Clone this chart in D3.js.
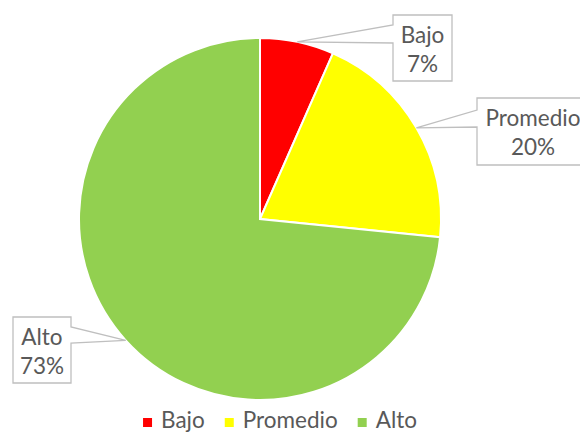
<!DOCTYPE html>
<html>
<head>
<meta charset="utf-8">
<script src="https://cdn.jsdelivr.net/npm/d3@7"></script>
<style>
  body { margin: 0; background: #fff; }
  #chart { width: 580px; height: 432px; }
  text { font-family: Lato, "Open Sans", sans-serif; fill: #595959; }
</style>
</head>
<body>
<div id="chart"></div>
<script>
// Dati
const categories = ['Bajo', 'Promedio', 'Alto'];
const values = [6.6, 20.0, 73.4];
const percentLabels = ['7%', '20%', '73%'];
const colors = ['#FF0000', '#FFFF00', '#92D050'];

const width = 580, height = 432;
const cx = 260, cy = 219, radius = 181;
const fontSize = 22.5;

// Posizione delle etichette (box) e lato di aggancio del richiamo
const labelBoxes = [
    { x: 393, y: 15, w: 59, h: 66, side: 'left', g0: 10, g1: 28 },
    { x: 477, y: 98, w: 115, h: 67, side: 'left', g0: 12, g1: 29, tx: 533 },
    { x: 13, y: 317, w: 58, h: 66, side: 'right', g0: 10, g1: 26 }
];

const svg = d3.select('#chart').append('svg')
    .attr('width', width)
    .attr('height', height);

const g = svg.append('g')
    .attr('transform', `translate(${cx},${cy})`);

const pie = d3.pie().sort(null).value(d => d);
const arcs = pie(values);

const arc = d3.arc().innerRadius(0).outerRadius(radius);

g.selectAll('path.slice')
    .data(arcs)
    .enter().append('path')
    .attr('class', 'slice')
    .attr('d', arc)
    .attr('fill', (d, i) => colors[i])
    .attr('stroke', '#fff')
    .attr('stroke-width', 2);

// Etichette con richiamo
const labelLayer = svg.append('g');
arcs.forEach((d, i) => {
    const mid = (d.startAngle + d.endAngle) / 2;
    const tip = [cx + radius * Math.sin(mid), cy - radius * Math.cos(mid)];
    const b = labelBoxes[i];
    let pts;
    if (b.side === 'left') {
        pts = [[b.x, b.y], [b.x + b.w, b.y], [b.x + b.w, b.y + b.h], [b.x, b.y + b.h],
               [b.x, b.y + b.g1], tip, [b.x, b.y + b.g0]];
    } else {
        pts = [[b.x, b.y], [b.x + b.w, b.y], [b.x + b.w, b.y + b.g0], tip,
               [b.x + b.w, b.y + b.g1], [b.x + b.w, b.y + b.h], [b.x, b.y + b.h]];
    }
    labelLayer.append('path')
        .attr('d', 'M' + pts.map(p => p.join(',')).join('L') + 'Z')
        .attr('fill', '#fff')
        .attr('stroke', '#BFBFBF')
        .attr('stroke-width', 1.3);

    const tx = b.tx || (b.x + b.w / 2);
    labelLayer.append('text')
        .attr('x', tx)
        .attr('y', b.y + 28)
        .attr('text-anchor', 'middle')
        .style('font-size', fontSize + 'px')
        .text(categories[i]);
    labelLayer.append('text')
        .attr('x', tx)
        .attr('y', b.y + 57)
        .attr('text-anchor', 'middle')
        .style('font-size', fontSize + 'px')
        .text(percentLabels[i]);
});

// Legenda
const legend = svg.append('g');
const items = categories.map((c, i) => {
    const row = legend.append('g');
    row.append('rect')
        .attr('width', 9).attr('height', 9)
        .attr('y', -10)
        .attr('fill', colors[i]);
    const t = row.append('text')
        .attr('x', 18)
        .attr('y', 0)
        .style('font-size', fontSize + 'px')
        .text(c);
    return { row, w: 18 + t.node().getComputedTextLength() };
});
const gap = 20;
const total = d3.sum(items, d => d.w) + gap * (items.length - 1);
let lx = 280 - total / 2;
items.forEach(it => {
    it.row.attr('transform', `translate(${lx},428)`);
    lx += it.w + gap;
});
</script>
</body>
</html>
